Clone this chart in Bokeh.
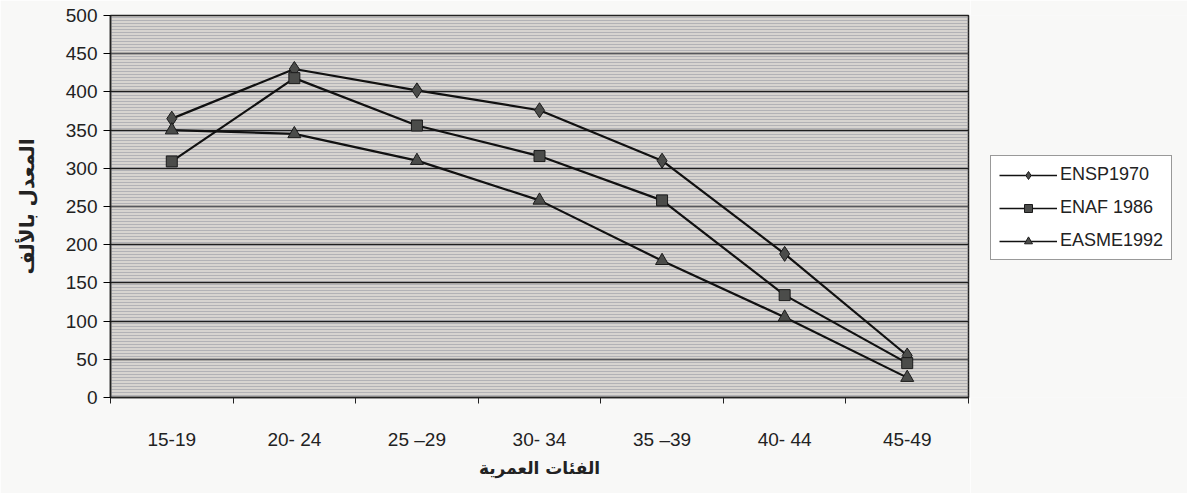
from bokeh.plotting import figure
from bokeh.layouts import row
from bokeh.models import (FixedTicker, Legend, LegendItem, BoxAnnotation,
                          Range1d)
from bokeh.embed import file_html
from bokeh.resources import INLINE

# Age-specific fertility rates (per thousand) by survey
age_groups = ["15-19", "20- 24", "25 \u201329", "30- 34", "35 \u201339", "40- 44", "45-49"]
ensp_1970 = [365, 430, 402, 376, 310, 188, 55]
enaf_1986 = [309, 418, 356, 316, 258, 134, 45]
easme_1992 = [350, 345, 310, 258, 179, 105, 26]
y_ticks = [0, 50, 100, 150, 200, 250, 300, 350, 400, 450, 500]

series = [
    ("ENSP1970", ensp_1970, "diamond", 15),
    ("ENAF 1986", enaf_1986, "square", 11),
    ("EASME1992", easme_1992, "triangle", 13),
]

x_pos = [i + 0.5 for i in range(len(age_groups))]

FONT = "Liberation Sans"
PAGE_BG = "#f8f8f7"
LINE_STYLE = dict(line_color="#111111", line_width=2.2)
MARKER_STYLE = dict(fill_color="#4b4c4a", line_color="#1a1a1a", line_width=1)

p = figure(width=970, height=493, output_backend="svg",
           toolbar_location=None,
           x_range=Range1d(0, len(age_groups)), y_range=Range1d(0, 500),
           min_border_left=110, min_border_right=2,
           min_border_top=15, min_border_bottom=96)

p.background_fill_color = "#d7d4d0"
p.border_fill_color = PAGE_BG
p.outline_line_color = "#222222"
p.outline_line_width = 1.5

# fine horizontal texture over the plotting area
p.add_layout(BoxAnnotation(fill_color=None, line_color=None,
                           hatch_pattern="horizontal_line", hatch_color="#8e909c",
                           hatch_alpha=0.5, hatch_scale=3, hatch_weight=1,
                           level="underlay"))

# axes
p.xaxis.ticker = FixedTicker(ticks=x_pos, minor_ticks=list(range(len(age_groups) + 1)))
p.xaxis.major_label_overrides = {x: lab for x, lab in zip(x_pos, age_groups)}
p.xaxis.major_tick_line_color = None
p.xaxis.minor_tick_line_color = "#222222"
p.xaxis.minor_tick_out = 6
p.xaxis.minor_tick_in = 0
p.xaxis.major_label_standoff = 25
p.xaxis.axis_label = "الفئات العمرية"
p.xaxis.axis_label_standoff = 5

p.yaxis.ticker = FixedTicker(ticks=y_ticks)
p.yaxis.minor_tick_line_color = None
p.yaxis.major_tick_out = 7
p.yaxis.major_tick_in = 0
p.yaxis.major_label_standoff = 6
p.yaxis.axis_label = "المعدل بالألف"
p.yaxis.axis_label_standoff = 24

for ax in (p.xaxis, p.yaxis):
    ax.axis_line_color = "#222222"
    ax.axis_line_width = 1.5
    ax.major_label_text_font = FONT
    ax.major_label_text_font_size = "19px"
    ax.major_label_text_color = "#222222"
    ax.axis_label_text_font = "DejaVu Sans"
    ax.axis_label_text_font_style = "bold"
    ax.axis_label_text_color = "#222222"
p.xaxis.axis_label_text_font_size = "17px"
p.yaxis.axis_label_text_font_size = "20px"

p.xgrid.grid_line_color = None
p.ygrid.grid_line_color = "#1e1e1e"
p.ygrid.grid_line_width = 1.4

for name, vals, marker, size in series:
    p.line(x_pos, vals, **LINE_STYLE)
    p.scatter(x_pos, vals, marker=marker, size=size, **MARKER_STYLE)

# legend panel to the right of the chart; its series renderers fall outside
# the panel's (0, 1) view, so only the legend key shows
lp = figure(width=217, height=493, output_backend="svg", toolbar_location=None,
            x_axis_type=None, y_axis_type=None, min_border=0,
            x_range=Range1d(0, 1), y_range=Range1d(0, 1))
lp.grid.visible = False
lp.outline_line_color = None
lp.background_fill_color = PAGE_BG
lp.border_fill_color = PAGE_BG

items = []
for name, vals, marker, size in series:
    ln = lp.line(x_pos, vals, line_color="#111111", line_width=1.6)
    sc = lp.scatter(x_pos, vals, marker=marker, size=size, **MARKER_STYLE)
    items.append(LegendItem(label=name, renderers=[ln, sc]))

legend = Legend(items=items, location=(20, 137),
                background_fill_color="#ffffff", background_fill_alpha=1,
                border_line_color="#333333", border_line_width=1,
                label_text_font=FONT, label_text_font_size="18px",
                label_text_color="#222222",
                glyph_width=58, glyph_height=20, label_standoff=3,
                spacing=12, padding=8, margin=0)
lp.add_layout(legend, "center")

layout = row(p, lp, spacing=0)
open("out.html", "w").write(file_html(layout, INLINE))
